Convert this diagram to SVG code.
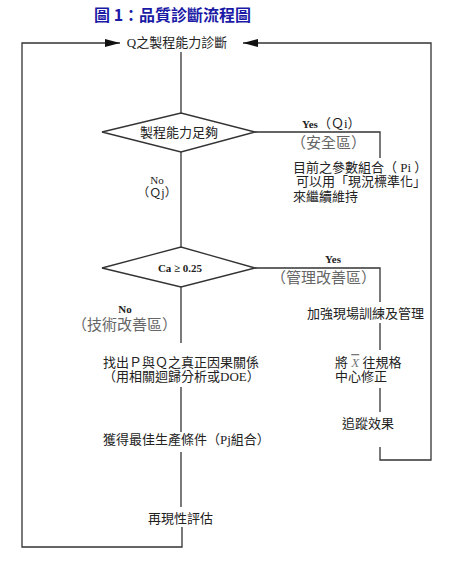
<svg xmlns="http://www.w3.org/2000/svg" width="465" height="564" viewBox="0 0 465 564">
<style>
.t{font-family:"Liberation Serif","Noto Sans CJK TC",serif;font-size:13px;fill:#222}
.g{font-family:"Liberation Serif","Noto Sans CJK TC",serif;font-size:15px;fill:#666}
.b{font-family:"Liberation Serif","Noto Sans CJK TC",serif;font-size:11px;font-weight:bold;fill:#222}
.ln{fill:none;stroke:#333;stroke-width:1.3}
.dm{fill:#fff;stroke:#333;stroke-width:1.3}
</style>
<defs>
<marker id="ah" markerUnits="userSpaceOnUse" markerWidth="16" markerHeight="8" refX="15" refY="4" orient="auto">
<path d="M0,0 L15,4 L0,8 Z" fill="#111"/>
</marker>
</defs>
<rect width="465" height="564" fill="#fff"/>
<text x="94" y="21" style="font-family:'Noto Sans CJK TC','Liberation Sans',sans-serif;font-size:16px;font-weight:bold;fill:#1a1aa6">圖 1：品質診斷流程圖</text>
<g id="connectors">
<path class="ln" d="M182,527 V547 H22 V43 H120" marker-end="url(#ah)"/>
<path class="ln" d="M380,447 V460 H431 V43 H243" marker-end="url(#ah)"/>
<path class="ln" d="M181,52 V113"/>
<path class="ln" d="M181,152 V247"/>
<path class="ln" d="M181,287 V343"/>
<path class="ln" d="M181,387 V432"/>
<path class="ln" d="M181,452 V507"/>
<path class="ln" d="M255,132 H380 V158"/>
<path class="ln" d="M255,268 H380 V302"/>
<path class="ln" d="M380,323 V350"/>
<path class="ln" d="M380,388 V412"/>
<text class="b" x="302" y="128">Yes<tspan style="font-weight:normal;font-size:13px">（Ｑi）</tspan></text>
<text class="g" x="291" y="148">（安全區）</text>
<text x="157" y="184" style="font-family:'Liberation Serif',serif;font-size:11px;fill:#222" text-anchor="middle">No</text>
<text x="157" y="197" style="font-family:'Liberation Serif','Noto Sans CJK TC',serif;font-size:12px;fill:#222" text-anchor="middle">（Ｑj）</text>
<text class="b" x="333" y="263" text-anchor="middle">Yes</text>
<text class="g" x="271" y="283">（管理改善區）</text>
<text class="b" x="125" y="313" text-anchor="middle">No</text>
<text class="g" x="72" y="330">（技術改善區）</text>
</g>
<g id="start"><text class="t" x="177" y="47" text-anchor="middle">Q之製程能力診斷</text></g>
<g id="decision1">
<polygon class="dm" points="102,132 181,113 255,132 181,152"/>
<text class="t" x="179" y="137" text-anchor="middle">製程能力足夠</text>
</g>
<g id="maintain">
<text class="t" x="293" y="172">目前之參數組合（ Pi ）</text>
<text class="t" x="296" y="186">可以用「現況標準化」</text>
<text class="t" x="293" y="201">來繼續維持</text>
</g>
<g id="decision2">
<polygon class="dm" points="102,268 181,247 255,268 181,287"/>
<text class="b" x="180" y="272" text-anchor="middle">Ca ≥  0.25</text>
</g>
<g id="train"><text class="t" x="307" y="318">加強現場訓練及管理</text></g>
<g id="shift">
<text class="t" x="335" y="367">將 <tspan style="font-style:italic;fill:#777;text-decoration:overline">X</tspan> 往規格</text>
<text class="t" x="335" y="381">中心修正</text>
</g>
<g id="track"><text class="t" x="342" y="428">追蹤效果</text></g>
<g id="cause">
<text class="t" x="103" y="367">找出Ｐ與Ｑ之真正因果關係</text>
<text class="t" x="103" y="381">（用相關迴歸分析或DOE）</text>
</g>
<g id="optimum"><text class="t" x="103" y="444">獲得最佳生產條件（Pj組合）</text></g>
<g id="reproduce"><text class="t" x="148" y="523">再現性評估</text></g>
</svg>
